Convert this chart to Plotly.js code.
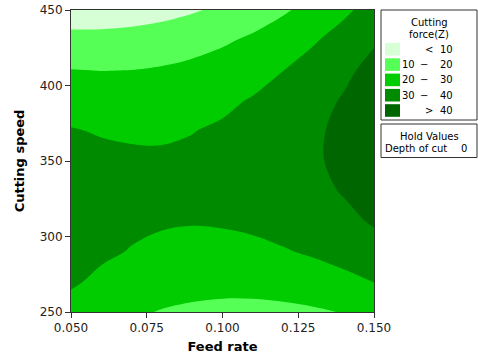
<!DOCTYPE html>
<html>
<head>
<meta charset="utf-8">
<script src="https://cdn.plot.ly/plotly-3.0.1.min.js"></script>
<style>html,body{margin:0;padding:0;background:#fff;}#chart{width:478px;height:356px;}</style>
</head>
<body>
<div id="chart"></div>
<script>
// Data
const feedRate = [0.05, 0.06, 0.07, 0.08, 0.09, 0.10, 0.11, 0.12, 0.13, 0.14, 0.15];
const cuttingSpeed = [250, 270, 290, 310, 330, 350, 370, 390, 410, 430, 450];
const cuttingForce = [
  [26.9, 23.9, 21.4, 19.5, 18.2, 17.4, 17.3, 17.8, 18.8, 20.4, 22.7],
  [31.1, 28.3, 26.2, 24.6, 23.7, 23.3, 23.5, 24.3, 25.7, 27.6, 30.2],
  [33.8, 31.4, 29.6, 28.4, 27.7, 27.7, 28.2, 29.4, 31.1, 33.4, 36.3],
  [35.1, 33.1, 31.6, 30.7, 30.4, 30.7, 31.5, 33.0, 35.1, 37.7, 40.9],
  [35.0, 33.3, 32.1, 31.6, 31.6, 32.2, 33.4, 35.2, 37.6, 40.6, 44.2],
  [33.5, 32.1, 31.3, 31.0, 31.4, 32.4, 33.9, 36.1, 38.8, 42.1, 46.0],
  [30.5, 29.4, 29.0, 29.1, 29.8, 31.1, 33.0, 35.4, 38.5, 42.2, 46.4],
  [26.1, 25.4, 25.3, 25.7, 26.7, 28.4, 30.6, 33.4, 36.8, 40.8, 45.4],
  [20.3, 19.9, 20.1, 20.9, 22.3, 24.2, 26.8, 29.9, 33.7, 38.0, 42.9],
  [13.1, 13.0, 13.5, 14.7, 16.4, 18.7, 21.6, 25.1, 29.1, 33.8, 39.0],
  [4.4, 4.7, 5.6, 7.0, 9.1, 11.7, 14.9, 18.8, 23.2, 28.2, 33.7]
];
const levels = [10, 20, 30, 40];
const bandColors = ['#d6ffd6', '#55ff55', '#00cc00', '#008a00', '#006600'];
const xTickVals = [0.05, 0.075, 0.1, 0.125, 0.15];
const xTickText = ['0.050', '0.075', '0.100', '0.125', '0.150'];
const yTickVals = [250, 300, 350, 400, 450];
const legendTitle = ['Cutting', 'force(Z)'];
const holdTitle = 'Hold Values';
const holdName = 'Depth of cut';
const holdValue = '0';

// layout helpers (pixel -> paper)
const L = 71, R = 374, T = 10, B = 312;
const px = p => (p - L) / (R - L);
const py = p => (B - p) / (B - T);

const FONT = 'DejaVu Sans, sans-serif';
const shapes = [];
const annotations = [];
function txt(x, y, text, size, anchor) {
  annotations.push({xref: 'paper', yref: 'paper', x: px(x), y: py(y), text: text,
    showarrow: false, xanchor: anchor || 'center', yanchor: 'middle',
    font: {family: FONT, size: size || 10, color: '#000'}});
}
// legend box
shapes.push({type: 'rect', xref: 'paper', yref: 'paper', x0: px(381), x1: px(477), y0: py(10), y1: py(120),
  line: {color: '#333', width: 1}, fillcolor: 'rgba(0,0,0,0)'});
txt(429, 22.5, legendTitle[0]);
txt(429, 34.5, legendTitle[1]);
bandColors.forEach((c, i) => {
  const cy = 49.3 + i * 15.3;
  shapes.push({type: 'rect', xref: 'paper', yref: 'paper', x0: px(385), x1: px(400),
    y0: py(cy - 6.3), y1: py(cy + 6.3), line: {width: 0}, fillcolor: c});
  if (i === 0) {
    txt(428.5, cy, '&lt;');
    txt(446, cy, String(levels[0]));
  } else if (i === bandColors.length - 1) {
    txt(428.5, cy, '&gt;');
    txt(446, cy, String(levels[levels.length - 1]));
  } else {
    txt(408, cy, String(levels[i - 1]));
    txt(423.5, cy, '\u2212');
    txt(446, cy, String(levels[i]));
  }
});
// hold values box
shapes.push({type: 'rect', xref: 'paper', yref: 'paper', x0: px(381), x1: px(477), y0: py(124), y1: py(157.5),
  line: {color: '#333', width: 1}, fillcolor: 'rgba(0,0,0,0)'});
txt(429, 136, holdTitle);
txt(383, 148.5, holdName, 10, 'left');
txt(464, 148.5, holdValue);

const trace = {
  type: 'contour',
  x: feedRate,
  y: cuttingSpeed,
  z: cuttingForce,
  autocontour: false,
  contours: {start: levels[0], end: levels[levels.length - 1], size: levels[1] - levels[0], coloring: 'fill', showlines: false},
  line: {width: 0},
  colorscale: bandColors.map((c, i) => [i / (bandColors.length - 1), c]),
  showscale: false,
  hoverinfo: 'skip'
};

const layout = {
  width: 478, height: 356,
  margin: {l: L, r: 478 - R, t: T, b: 356 - B, pad: 0},
  paper_bgcolor: '#fff', plot_bgcolor: '#fff',
  showlegend: false,
  font: {family: FONT, size: 12, color: '#000'},
  xaxis: {
    range: [0.05, 0.15], tickvals: xTickVals, ticktext: xTickText,
    ticks: 'outside', ticklen: 5, tickcolor: '#333', showline: true, mirror: true,
    linecolor: '#333', linewidth: 1, showgrid: false, zeroline: false,
    tickfont: {family: FONT, size: 12, color: '#222'},
    title: {text: 'Feed rate', font: {family: FONT, size: 13, color: '#000', weight: 'bold'}, standoff: 7}
  },
  yaxis: {
    range: [250, 450], tickvals: yTickVals,
    ticks: 'outside', ticklen: 5, tickcolor: '#333', showline: true, mirror: true,
    linecolor: '#333', linewidth: 1, showgrid: false, zeroline: false,
    tickfont: {family: FONT, size: 12, color: '#222'},
    title: {text: 'Cutting speed', font: {family: FONT, size: 13, color: '#000', weight: 'bold'}, standoff: 12}
  },
  shapes: shapes,
  annotations: annotations
};

Plotly.newPlot('chart', [trace], layout, {staticPlot: true, displayModeBar: false});
</script>
</body>
</html>
